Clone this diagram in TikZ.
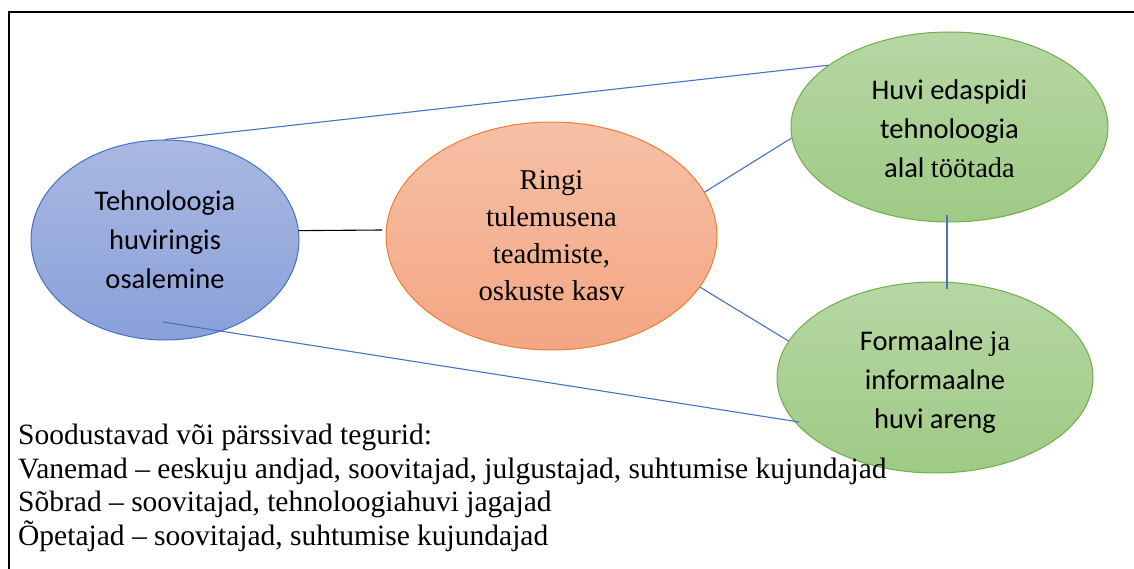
\documentclass[tikz,border=0pt]{standalone}
\usepackage{fontspec}
\setmainfont{Liberation Serif}
\newfontfamily\calibri{Carlito}
\usetikzlibrary{shapes.geometric}
\definecolor{bluetop}{RGB}{170,185,226}
\definecolor{bluebot}{RGB}{137,160,218}
\definecolor{blueline}{RGB}{68,114,196}
\definecolor{orangetop}{RGB}{246,192,166}
\definecolor{orangebot}{RGB}{244,166,131}
\definecolor{orangeline}{RGB}{237,125,49}
\definecolor{greentop}{RGB}{182,215,164}
\definecolor{greenbot}{RGB}{159,202,133}
\definecolor{greenline}{RGB}{112,173,71}
\tikzset{
  bubble/.style={ellipse, inner sep=0pt, align=center, line width=1pt},
  bluebubble/.style={bubble, draw=blueline, top color=bluetop, bottom color=bluebot,
    font={\calibri\fontsize{28.5}{39}\selectfont}},
  orangebubble/.style={bubble, draw=orangeline, top color=orangetop, bottom color=orangebot,
    font={\fontsize{28.7}{37}\selectfont}},
  greenbubble/.style={bubble, draw=greenline, top color=greentop, bottom color=greenbot,
    font={\calibri\fontsize{28.5}{39}\selectfont}},
  link/.style={draw=blueline, line width=1.1pt},
  blacklink/.style={draw=black, line width=1.1pt},
}
\begin{document}
\begin{tikzpicture}[x=1pt,y=-1pt]
\useasboundingbox (0,0) rectangle (1134,569);
\draw[line width=2pt] (9,569) -- (9,12) -- (1134,12);

\node[bluebubble, minimum width=268pt, minimum height=200pt] (blue) at (165,240)
  {Tehnoloogia\\huviringis\\osalemine};
\node[orangebubble, minimum width=331pt, minimum height=228pt] (orange) at (551.5,236)
  {Ringi\\tulemusena\\teadmiste,\\oskuste kasv};
\node[greenbubble, minimum width=317pt, minimum height=190pt] (g1) at (949.5,127)
  {\rule{0pt}{24pt}Huvi edaspidi\\tehnoloogia\\alal {\rmfamily töötada}};
\node[greenbubble, minimum width=316pt, minimum height=191pt] (g2) at (935,377.5)
  {\rule{0pt}{28pt}Formaalne {\rmfamily ja}\\informaalne\\huvi areng};

\coordinate (k2) at (382,230);
\coordinate (v1) at (947,215);
\coordinate (v2) at (947,289);
\coordinate (b1) at (163,322);
\coordinate (b2) at (799,422);

\draw[link] (blue.north) -- (g1.153);
\draw[blacklink] (blue.4) -- (k2);
\draw[link] (orange.16) -- (g1.184);
\draw[link] (orange.-19.5) -- (g2.166);
\draw[link] (v1) -- (v2);
\draw[link] (b1) -- (b2);

\node[anchor=north west, inner sep=0pt, align=left,
  font={\fontsize{29.5}{33.6}\selectfont}] (factors) at (18,424)
  {Soodustavad või pärssivad tegurid:\\
   Vanemad – eeskuju andjad, soovitajad, julgustajad, suhtumise kujundajad\\
   Sõbrad – soovitajad, tehnoloogiahuvi jagajad\\
   Õpetajad – soovitajad, suhtumise kujundajad};
\end{tikzpicture}
\end{document}
